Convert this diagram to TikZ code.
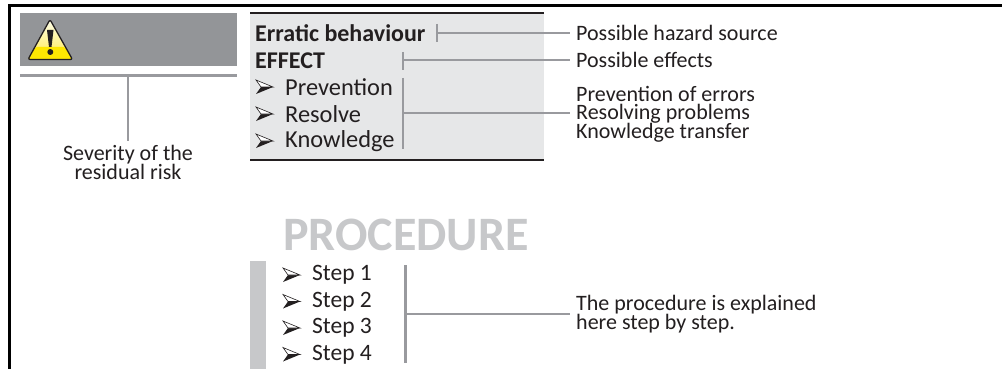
\documentclass[tikz,border=0pt]{standalone}
\usepackage{fontspec}
\setmainfont{Carlito}
\newcommand{\tightlines}{\lineskiplimit=-20pt\relax}
\definecolor{ink}{HTML}{231F20}
\definecolor{headgrey}{HTML}{939598}
\definecolor{linegrey}{HTML}{999A9E}
\definecolor{boxgrey}{HTML}{E6E7E8}
\definecolor{pale}{HTML}{C7C8CA}
\tikzset{
  x=1pt,y=-1pt,
  lab/.style={inner sep=0pt,anchor=west,text=ink,font=\fontsize{22}{18.5}\selectfont\tightlines,align=left},
  mainlab/.style={inner sep=0pt,anchor=west,text=ink,font=\fontsize{24.4}{24}\selectfont},
  boldlab/.style={inner sep=0pt,anchor=west,text=ink,font=\fontsize{24}{24}\selectfont\bfseries},
  steplab/.style={inner sep=0pt,anchor=west,text=ink,font=\fontsize{23.5}{24}\selectfont},
  tick/.style={draw=linegrey,line width=2.2pt},
  lead/.style={draw=linegrey,line width=2pt},
  bulletmark/.pic={
    \fill[ink] (0,7) -- (17,0) -- (5,0) -- cycle;
    \fill[white] (0,-7) -- (17,0) -- (5,0) -- cycle;
    \draw[ink,line width=.6pt,line join=miter] (0,-7) -- (17,0) -- (5,0) -- cycle;
  },
}
\begin{document}
\begin{tikzpicture}
\useasboundingbox (0,0) rectangle (1002,369);
\fill[white] (0,0) rectangle (1002,369);
% frame
\draw[black,line width=3pt] (9.5,369) -- (9.5,5.5) -- (1002,5.5);
% left header
\fill[headgrey] (20,13) rectangle (237,66);
\draw[linegrey,line width=3pt] (20,75.5) -- (237,75.5);
% warning sign
\shade[top color=yellow!8,bottom color=yellow!75!orange!70,rounded corners=2pt]
  (50,19.5) -- (72.5,59.5) -- (28,59.5) -- cycle;
\fill[yellow!90!orange,rounded corners=1.5pt] (35.5,47) -- (65,47) -- (72.5,59.5) -- (28,59.5) -- cycle;
\draw[ink,line width=1.3pt,line join=round,rounded corners=2pt] (50,19.5) -- (72.5,59.5) -- (28,59.5) -- cycle;
\fill[ink] (47,30) -- (53.5,30) -- (51.5,47) -- (49,47) -- cycle;
\fill[ink] (50.3,52) circle (3pt);
% severity
\node[inner sep=0pt,text=ink,align=center,font=\fontsize{22}{18.5}\selectfont\tightlines] (sev) at (128,162.5) {Severity of the\\residual risk};
\coordinate (sevtop) at (128,76);
\coordinate (sevend) at (128,141);
\draw[tick,line width=1.8pt] (sevtop) -- (sevend);
% box
\fill[boxgrey] (250,13) rectangle (544,159);
\draw[ink,line width=2pt] (250,13) -- (544,13);
\draw[ink,line width=2pt] (250,159.5) -- (544,159.5);
\node[boldlab] (err) at (255,33.5) {Erratic behaviour};
\node[boldlab] (eff) at (255,60.5) {EFFECT};
\pic at (256,87) {bulletmark};
\pic at (256,114) {bulletmark};
\pic at (256,141) {bulletmark};
\node[mainlab] (prev) at (285,87) {Prevention};
\node[mainlab] (res) at (285,114) {Resolve};
\node[mainlab] (know) at (285,141) {Knowledge};
% right labels
\node[lab] (hz) at (576,32.5) {Possible hazard source};
\node[lab] (pe) at (576,60) {Possible effects};
\node[lab] (pr) at (576,114) {Prevention of errors\\Resolving problems\\Knowledge transfer};
\node[lab] (pc) at (576,314) {The procedure is explained\\here step by step.};
% connectors
\coordinate (t1a) at (437,24); \coordinate (t1b) at (437,42); \coordinate (t1c) at (437,33);
\coordinate (t2a) at (403,52); \coordinate (t2b) at (403,70); \coordinate (t2c) at (403,60.5);
\coordinate (t3a) at (403,78); \coordinate (t3b) at (403,149); \coordinate (t3c) at (403,113);
\coordinate (t4a) at (405.5,265); \coordinate (t4b) at (405.5,363); \coordinate (t4c) at (405.5,314);
\draw[tick] (t1a) -- (t1b);
\draw[tick] (t2a) -- (t2b);
\draw[tick] (t3a) -- (t3b);
\draw[tick] (t4a) -- (t4b);
\draw[lead] (t1c) -- ([xshift=-6pt]hz.west |- t1c);
\draw[lead] (t2c) -- ([xshift=-6pt]pe.west |- t2c);
\draw[lead] (t3c) -- ([xshift=-6pt]pr.west |- t3c);
\draw[lead] (t4c) -- ([xshift=-6pt]pc.west |- t4c);
% procedure
\node[inner sep=0pt,anchor=west,text=pale,font=\fontsize{48}{48}\selectfont\bfseries] (proc) at (283,235) {PROCEDURE};
\fill[pale] (250,261) rectangle (266,369);
\pic at (283,275) {bulletmark};
\pic at (283,301.5) {bulletmark};
\pic at (283,328) {bulletmark};
\pic at (283,354.5) {bulletmark};
\node[steplab] (s1) at (312,275) {Step 1};
\node[steplab] (s2) at (312,301.5) {Step 2};
\node[steplab] (s3) at (312,328) {Step 3};
\node[steplab] (s4) at (312,354.5) {Step 4};
\end{tikzpicture}
\end{document}
